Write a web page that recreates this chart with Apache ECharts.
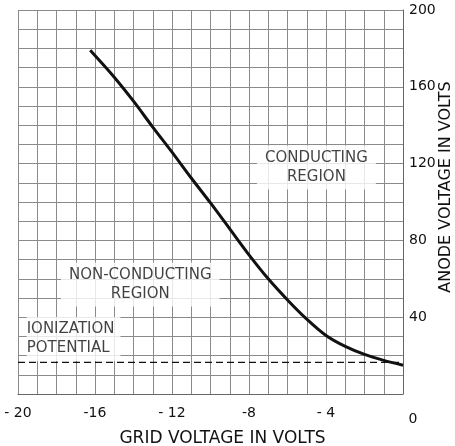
<!DOCTYPE html>
<html>
<head>
<meta charset="utf-8">
<script src="https://cdn.jsdelivr.net/npm/echarts@6/dist/echarts.min.js"></script>
<style>
  html, body { margin: 0; padding: 0; background: #fff; }
  #chart { width: 455px; height: 446px; }
</style>
</head>
<body>
<div id="chart"></div>
<script>
// grid voltage (V) / anode voltage (V)
var gridVolts = [-16.25, -15, -14, -13, -12, -11, -10, -9, -8, -7, -6, -5, -4, -3, -2, -1, 0];
var anodeVolts = [179, 165, 152.5, 139, 126, 112.5, 99.5, 86, 72.5, 60, 49, 39, 30.5, 24.8, 20.6, 17.5, 15];

// ionization potential, dashed
var ionX = [-20, 0];
var ionY = [16.5, 16.5];

// tick labels
var xTicks = [-20, -16, -12, -8, -4, 0];
var xTickText = ['- 20', '-16', '- 12', '-8', '- 4', '0'];
var yTicks = [40, 80, 120, 160, 200];

// region notes [x, y, text]
var notes = [
  [-4.5, 118, 'CONDUCTING\nREGION'],
  [-13.65, 57, 'NON-CONDUCTING\nREGION']
];
var ionNote = [-19.55, 28.7, 'IONIZATION\nPOTENTIAL'];

var chart = echarts.init(document.getElementById('chart'));
var font = 'DejaVu Sans';
var ink = '#111';

function zip(a, b) {
  var out = [];
  for (var i = 0; i < a.length; i++) out.push([a[i], b[i]]);
  return out;
}

var option = {
  backgroundColor: '#fff',
  animation: false,
  grid: { left: 18, right: 52, top: 10, bottom: 52, outerBoundsMode: 'none', containLabel: false },
  xAxis: {
    type: 'value',
    min: -20, max: 0, interval: 1,
    name: 'GRID VOLTAGE IN VOLTS',
    nameLocation: 'middle',
    nameGap: 36,
    nameMoveOverlap: false,
    nameTextStyle: { fontFamily: font, fontSize: 17, color: ink, padding: [0, 0, 0, 24] },
    axisLine: { show: true, lineStyle: { color: '#666', width: 1 } },
    axisTick: { show: false },
    axisLabel: {
      margin: 12,
      fontFamily: font, fontSize: 14, color: ink,
      formatter: function (v) {
        var i = xTicks.indexOf(v);
        if (i < 0) return '';
        return v === 0 ? '{end|' + xTickText[i] + '}' : xTickText[i];
      },
      rich: {
        end: { fontFamily: font, fontSize: 14, color: ink, padding: [6, 0, 0, 20] }
      }
    },
    splitLine: { show: true, lineStyle: { color: '#8a8a8a', width: 1 } }
  },
  yAxis: {
    type: 'value',
    position: 'right',
    min: 0, max: 200, interval: 10,
    name: 'ANODE VOLTAGE IN VOLTS',
    nameLocation: 'middle',
    nameRotate: 90,
    nameGap: 35,
    nameMoveOverlap: false,
    nameTextStyle: { fontFamily: font, fontSize: 16, color: ink, padding: [0, 0, 0, 30] },
    axisLine: { show: true, lineStyle: { color: '#666', width: 1 } },
    axisTick: { show: false },
    axisLabel: {
      margin: 6,
      fontFamily: font, fontSize: 14, color: ink,
      formatter: function (v) {
        return yTicks.indexOf(v) < 0 ? '' : String(v);
      }
    },
    splitLine: { show: true, lineStyle: { color: '#8a8a8a', width: 1 } }
  },
  series: [
    {
      type: 'line',
      data: zip(ionX, ionY),
      showSymbol: false,
      lineStyle: { color: ink, width: 1.2, type: [7, 4] },
      z: 3
    },
    {
      type: 'line',
      data: zip(gridVolts, anodeVolts),
      smooth: 0.3,
      showSymbol: false,
      lineStyle: { color: ink, width: 3 },
      z: 4
    },
    {
      type: 'scatter',
      symbolSize: 0,
      data: notes,
      z: 5,
      label: {
        show: true,
        position: 'inside',
        formatter: function (p) { return p.data[2]; },
        fontFamily: font, fontSize: 15, lineHeight: 19, color: ink,
        align: 'center',
        backgroundColor: '#fff',
        padding: [3, 8]
      }
    },
    {
      type: 'scatter',
      symbolSize: 0,
      data: [ionNote],
      z: 5,
      label: {
        show: true,
        position: 'right',
        distance: 0,
        formatter: function (p) { return p.data[2]; },
        fontFamily: font, fontSize: 15, lineHeight: 19, color: ink,
        align: 'left',
        backgroundColor: '#fff',
        padding: [3, 6, 3, 0]
      }
    }
  ]
};

chart.setOption(option);
</script>
</body>
</html>
